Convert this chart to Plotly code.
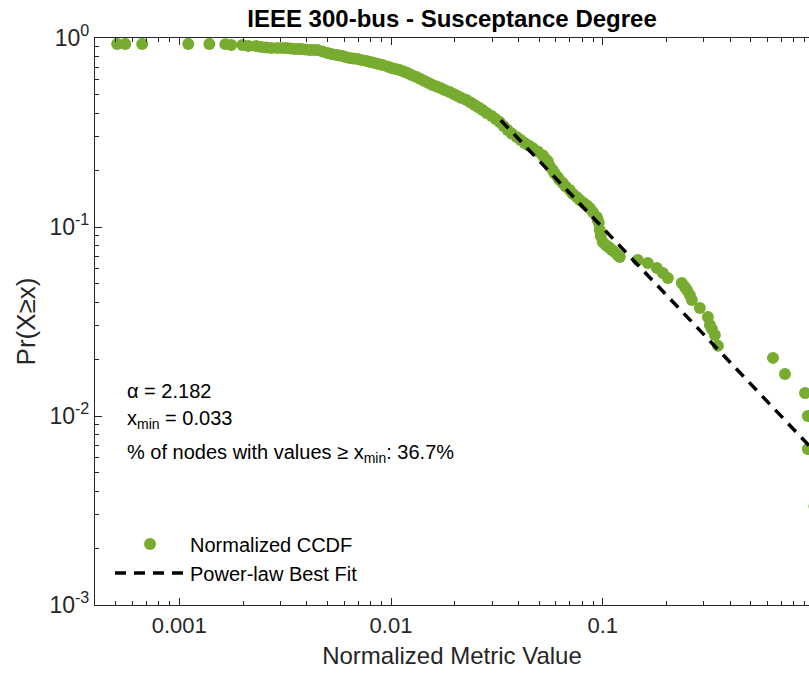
import plotly.graph_objects as go

# ---- data ----
ccdf_x = [0.000509, 0.000556, 0.000668, 0.001103, 0.001387, 0.00165, 0.00176, 0.001986,
          0.00212, 0.00231, 0.002442, 0.002578, 0.00272, 0.00290, 0.003069, 0.00321,
          0.003347, 0.00350, 0.003652, 0.00377, 0.003941, 0.00412, 0.004301, 0.00449,
          0.004744, 0.00501, 0.005233, 0.00552, 0.005708, 0.00590, 0.006095, 0.00637,
          0.006648, 0.00694, 0.007253, 0.00766, 0.0080, 0.00836, 0.008728, 0.00912,
          0.009627, 0.01006, 0.0105, 0.01097, 0.01146, 0.01197, 0.0125, 0.01320, 0.01379,
          0.01440, 0.01504, 0.01571, 0.01641, 0.01714, 0.01791, 0.01890, 0.01975, 0.02063,
          0.02154, 0.02275, 0.02376, 0.02482, 0.02593, 0.02707, 0.02829, 0.02987, 0.03119,
          0.03258, 0.03403, 0.03555, 0.03713, 0.03921, 0.04095, 0.04277, 0.04467, 0.04667,
          0.04928, 0.05204, 0.05318, 0.05495, 0.05616, 0.0580, 0.05929, 0.06125, 0.06262,
          0.06469, 0.06686, 0.06982, 0.07214, 0.07536, 0.07785, 0.08130, 0.08398, 0.08680,
          0.08969, 0.09368, 0.09471, 0.09574, 0.09678, 0.0978, 0.1000, 0.1033, 0.1056,
          0.1079, 0.1103, 0.1139, 0.1177, 0.1203, 0.1464, 0.1632, 0.1800, 0.1922, 0.2029,
          0.2362, 0.2442, 0.2496, 0.2578, 0.2635, 0.2874, 0.3136, 0.3206, 0.3276, 0.3385,
          0.3498, 0.6366, 0.7252, 0.9018, 0.93, 0.93, 1.0]
ccdf_y = [0.930, 0.930, 0.930, 0.930, 0.930, 0.928, 0.918, 0.918,
          0.907, 0.907, 0.896, 0.891, 0.885, 0.885, 0.885, 0.885,
          0.880, 0.875, 0.875, 0.875, 0.869, 0.864, 0.864, 0.864,
          0.848, 0.833, 0.823, 0.813, 0.808, 0.803, 0.793, 0.784,
          0.779, 0.774, 0.765, 0.756, 0.746, 0.737, 0.728, 0.720,
          0.707, 0.694, 0.685, 0.677, 0.665, 0.653, 0.637, 0.622, 0.607,
          0.592, 0.578, 0.564, 0.554, 0.544, 0.531, 0.518, 0.505, 0.493,
          0.481, 0.470, 0.456, 0.442, 0.429, 0.416, 0.401, 0.387, 0.373,
          0.359, 0.342, 0.326, 0.312, 0.299, 0.289, 0.278, 0.270, 0.262,
          0.251, 0.240, 0.232, 0.2235, 0.210, 0.200, 0.192, 0.184, 0.177,
          0.171, 0.164, 0.157, 0.150, 0.144, 0.139, 0.134, 0.130, 0.126,
          0.120, 0.113, 0.109, 0.105, 0.0964, 0.0897, 0.0833, 0.0803, 0.0788,
          0.0774, 0.0755, 0.0737, 0.0711, 0.0694, 0.0669, 0.0645, 0.0607, 0.0571, 0.0537,
          0.0505, 0.0481, 0.0464, 0.0437, 0.0411, 0.0373, 0.0334, 0.0303, 0.0289, 0.0268,
          0.0235, 0.0203, 0.0167, 0.01323, 0.0100, 0.00669, 0.00333]

fit_x = [0.033, 1.0]
fit_y = [0.367, 0.0065]

x_ticks = [0.001, 0.01, 0.1]
x_ticktext = ["0.001", "0.01", "0.1"]
y_ticks = [1, 0.1, 0.01, 0.001]
y_ticktext = ["10<sup>0</sup>", "10<sup>-1</sup>", "10<sup>-2</sup>", "10<sup>-3</sup>"]
minor_mult = [2, 3, 4, 5, 6, 7, 8, 9]
decades = [0.0001, 0.001, 0.01, 0.1]

title_text = "<b>IEEE 300-bus - Susceptance Degree</b>"
alpha_text = "\u03b1 = 2.182"
xmin_text = "x<sub>min</sub> = 0.033"
pct_text = "% of nodes with values \u2265 x<sub>min</sub>: 36.7%"

GREEN = "#77AC30"
AX = "#262626"
FONT = "Liberation Sans, Arial, Helvetica, sans-serif"
X_RANGE = [-3.398, -0.026]
Y_RANGE = [-3, 0]

minor_vals = [m * d for d in decades for m in minor_mult]

fig = go.Figure()
fig.add_trace(go.Scatter(
    x=ccdf_x, y=ccdf_y, mode="markers", name="Normalized CCDF",
    marker=dict(color=GREEN, size=12, line=dict(width=0)),
    legendgroup="a"))
fig.add_trace(go.Scatter(
    x=fit_x, y=fit_y, mode="lines", name="Power-law Best Fit",
    line=dict(color="black", width=3.5, dash="11px,8px"),
    legendgroup="b"))

fig.update_layout(
    width=809, height=675,
    margin=dict(l=95, r=0, t=38, b=70),
    paper_bgcolor="white", plot_bgcolor="white",
    font=dict(family=FONT, color=AX, size=20),
    title=dict(text=title_text, x=0.5, xref="paper", xanchor="center",
               y=1 - 19 / 675, yanchor="middle",
               font=dict(size=24, color="black", family=FONT)),
    showlegend=True,
    legend=dict(x=0.021, y=0.142, xanchor="left", yanchor="top",
                bgcolor="rgba(0,0,0,0)", font=dict(size=20, color="black"),
                itemwidth=70, traceorder="grouped", tracegroupgap=0),
)

common = dict(
    ticks="inside", ticklen=7, tickwidth=1.2, tickcolor=AX,
    showline=True, linecolor=AX, linewidth=1.2,
    showgrid=False, zeroline=False,
    minor=dict(tickvals=minor_vals, ticks="inside", ticklen=4, tickwidth=1.2,
               tickcolor=AX, showgrid=False),
)

fig.update_xaxes(
    type="log", range=X_RANGE,
    tickvals=x_ticks, ticktext=x_ticktext, mirror="ticks",
    tickfont=dict(size=22, color=AX),
    title=dict(text="Normalized Metric Value", font=dict(size=24, color=AX), standoff=10),
    **common,
)
fig.update_yaxes(
    type="log", range=Y_RANGE,
    tickvals=y_ticks, ticktext=y_ticktext,
    tickfont=dict(size=23, color=AX),
    title=dict(text="Pr(X\u2265x)", font=dict(size=26, color=AX), standoff=6),
    **common,
)

for txt, yp in [(alpha_text, 0.377), (xmin_text, 0.327), (pct_text, 0.268)]:
    fig.add_annotation(text=txt, xref="paper", yref="paper", x=0.042, y=yp,
                       xanchor="left", yanchor="middle", showarrow=False,
                       font=dict(size=20, color="black", family=FONT))

fig.write_html("out.html")
